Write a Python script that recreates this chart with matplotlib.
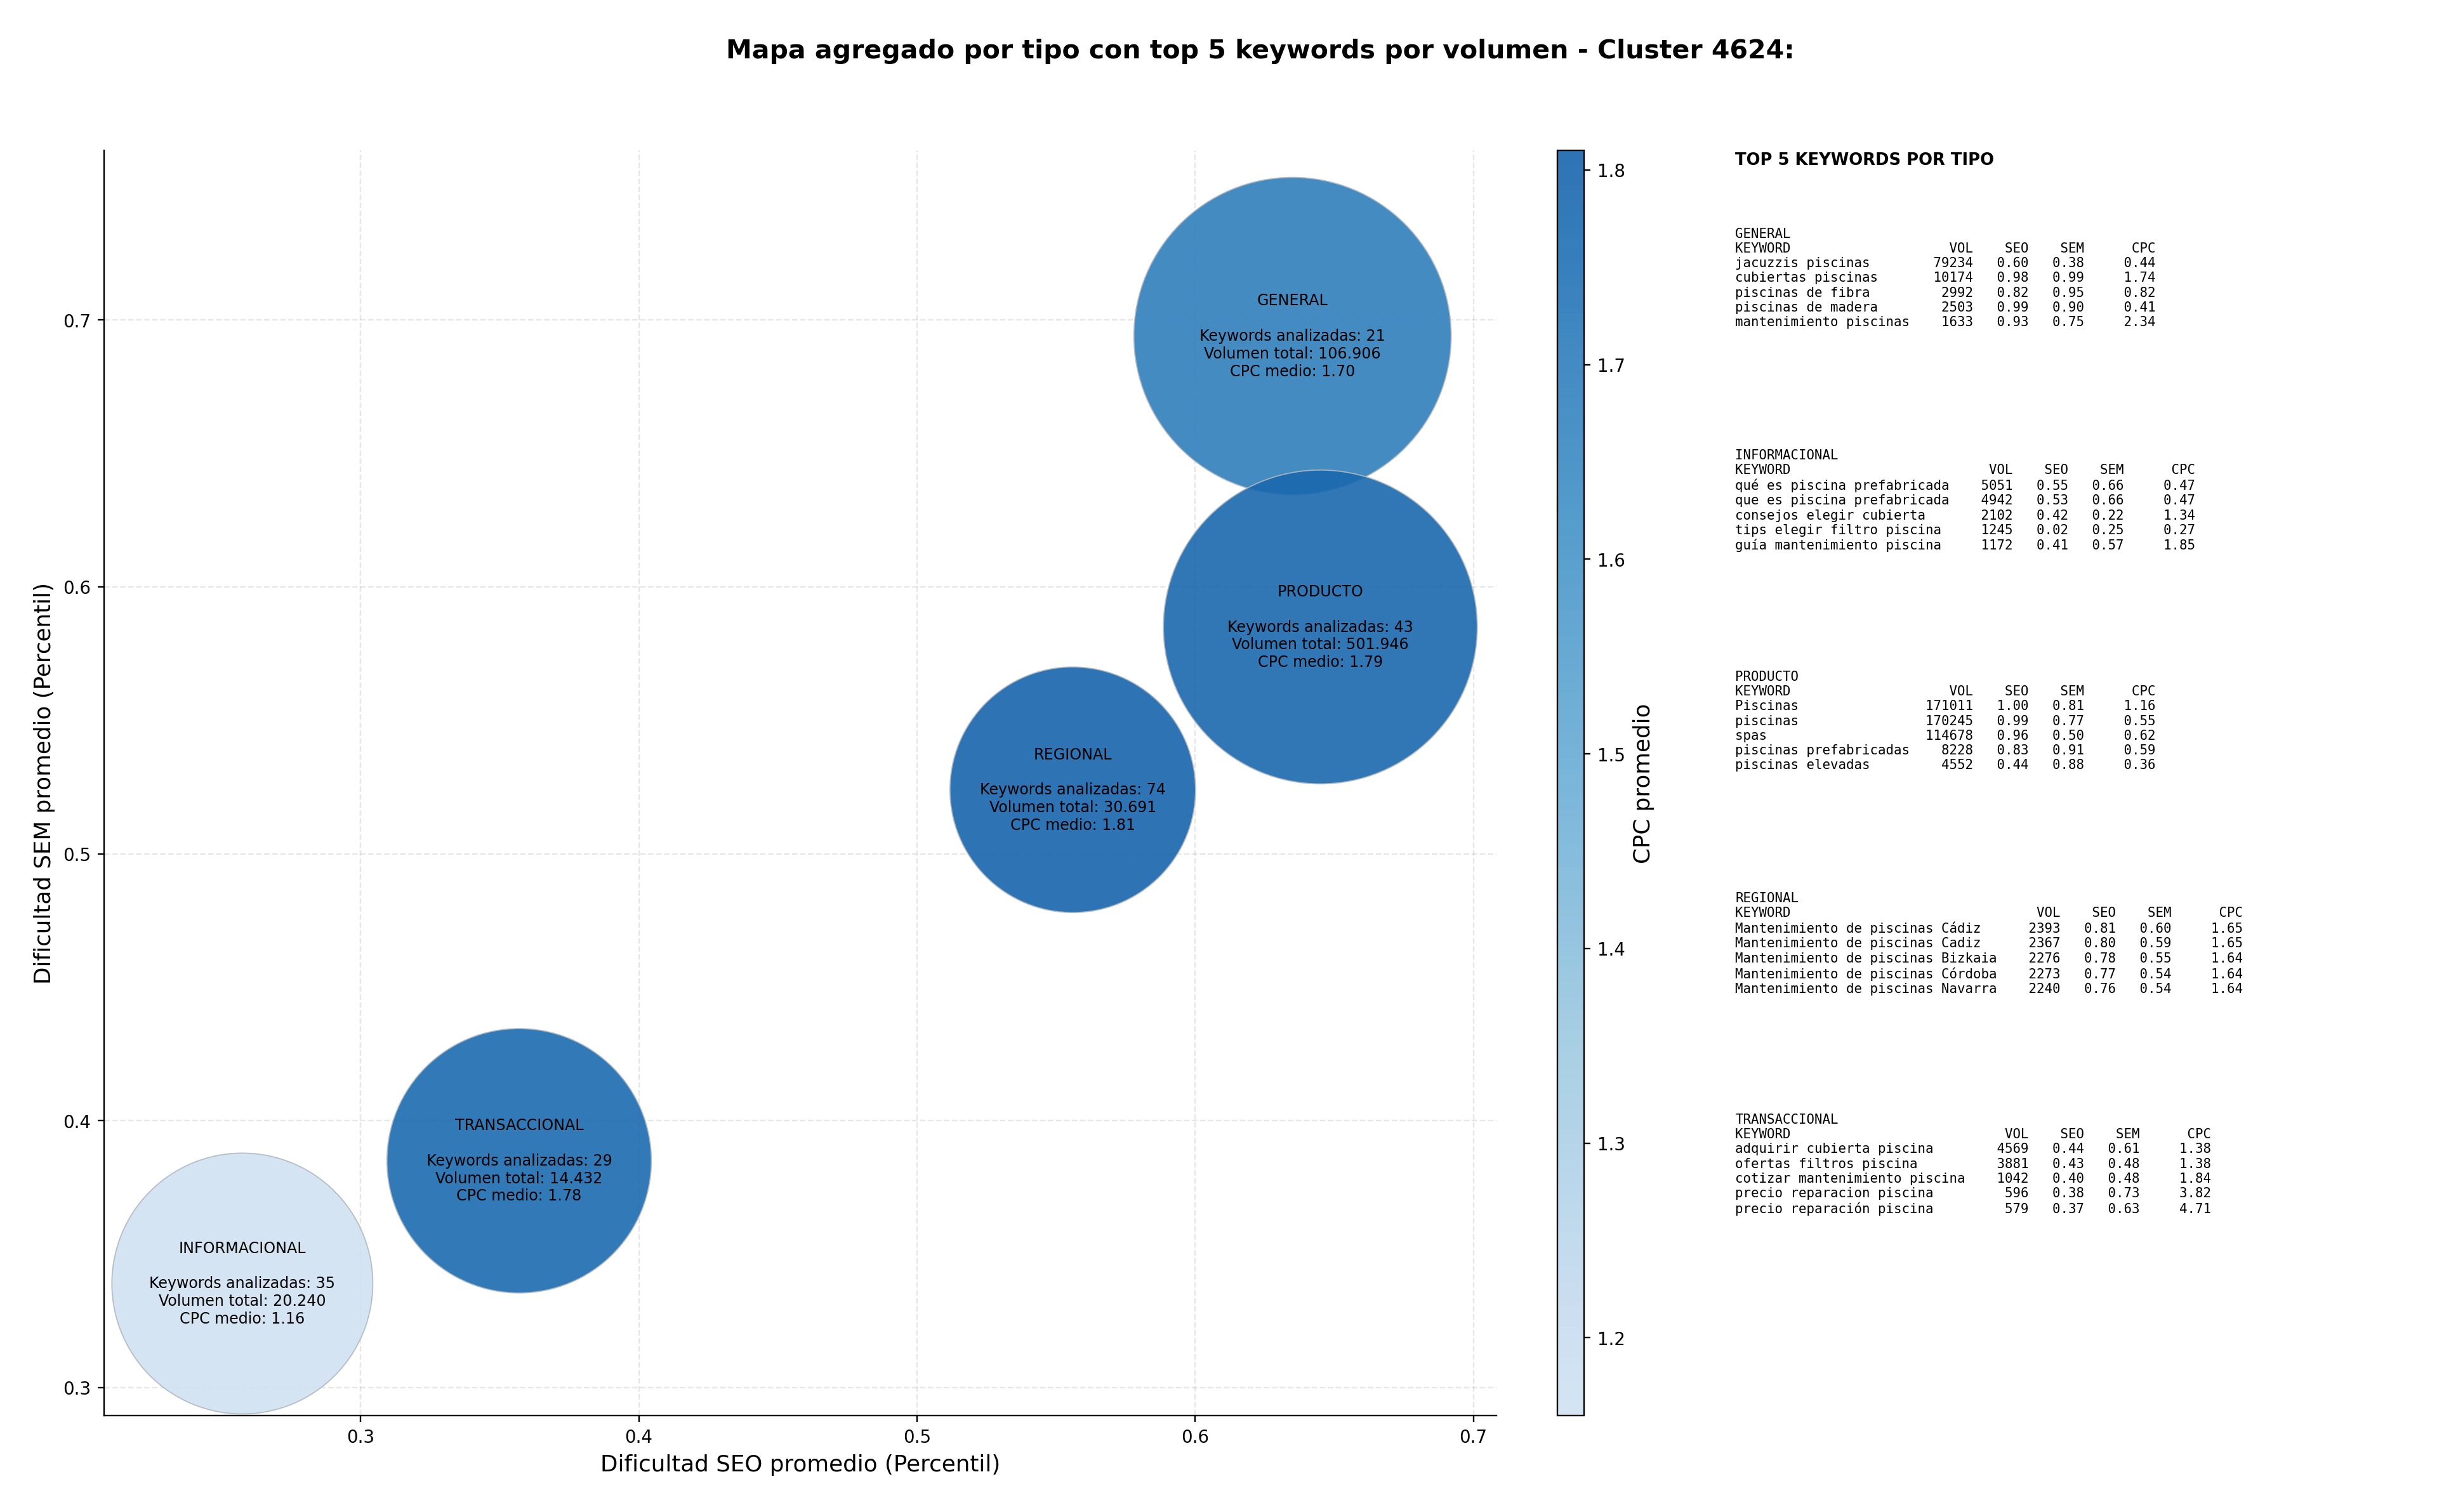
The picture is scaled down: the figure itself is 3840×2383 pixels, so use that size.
import numpy as np
import matplotlib
matplotlib.use("Agg")
import matplotlib.pyplot as plt
from matplotlib.colors import LinearSegmentedColormap, Normalize

# aggregated data per type
tipos = ['GENERAL', 'INFORMACIONAL', 'PRODUCTO', 'REGIONAL', 'TRANSACCIONAL']
seo_medio = [0.635, 0.2575, 0.645, 0.556, 0.357]
sem_medio = [0.694, 0.339, 0.585, 0.524, 0.385]
n_keywords = [21, 35, 43, 74, 29]
volumen_total = [106906, 20240, 501946, 30691, 14432]
cpc_medio = [1.70, 1.16, 1.79, 1.81, 1.78]
bubble_size = [28300, 19130, 27690, 16950, 19650]

# top 5 keywords per type
top_keywords = {
    'GENERAL': ['jacuzzis piscinas', 'cubiertas piscinas', 'piscinas de fibra',
                'piscinas de madera', 'mantenimiento piscinas'],
    'INFORMACIONAL': ['qué es piscina prefabricada', 'que es piscina prefabricada',
                      'consejos elegir cubierta', 'tips elegir filtro piscina',
                      'guía mantenimiento piscina'],
    'PRODUCTO': ['Piscinas', 'piscinas', 'spas', 'piscinas prefabricadas',
                 'piscinas elevadas'],
    'REGIONAL': ['Mantenimiento de piscinas Cádiz', 'Mantenimiento de piscinas Cadiz',
                 'Mantenimiento de piscinas Bizkaia', 'Mantenimiento de piscinas Córdoba',
                 'Mantenimiento de piscinas Navarra'],
    'TRANSACCIONAL': ['adquirir cubierta piscina', 'ofertas filtros piscina',
                      'cotizar mantenimiento piscina', 'precio reparacion piscina',
                      'precio reparación piscina'],
}
top_vol = {
    'GENERAL': [79234, 10174, 2992, 2503, 1633],
    'INFORMACIONAL': [5051, 4942, 2102, 1245, 1172],
    'PRODUCTO': [171011, 170245, 114678, 8228, 4552],
    'REGIONAL': [2393, 2367, 2276, 2273, 2240],
    'TRANSACCIONAL': [4569, 3881, 1042, 596, 579],
}
top_seo = {
    'GENERAL': [0.60, 0.98, 0.82, 0.99, 0.93],
    'INFORMACIONAL': [0.55, 0.53, 0.42, 0.02, 0.41],
    'PRODUCTO': [1.00, 0.99, 0.96, 0.83, 0.44],
    'REGIONAL': [0.81, 0.80, 0.78, 0.77, 0.76],
    'TRANSACCIONAL': [0.44, 0.43, 0.40, 0.38, 0.37],
}
top_sem = {
    'GENERAL': [0.38, 0.99, 0.95, 0.90, 0.75],
    'INFORMACIONAL': [0.66, 0.66, 0.22, 0.25, 0.57],
    'PRODUCTO': [0.81, 0.77, 0.50, 0.91, 0.88],
    'REGIONAL': [0.60, 0.59, 0.55, 0.54, 0.54],
    'TRANSACCIONAL': [0.61, 0.48, 0.48, 0.73, 0.63],
}
top_cpc = {
    'GENERAL': [0.44, 1.74, 0.82, 0.41, 2.34],
    'INFORMACIONAL': [0.47, 0.47, 1.34, 0.27, 1.85],
    'PRODUCTO': [1.16, 0.55, 0.62, 0.59, 0.36],
    'REGIONAL': [1.65, 1.65, 1.64, 1.64, 1.64],
    'TRANSACCIONAL': [1.38, 1.38, 1.84, 3.82, 4.71],
}

DPI = 214
fig = plt.figure(figsize=(3840.4 / DPI, 2383.4 / DPI), dpi=DPI)
ax = fig.add_axes([0.0427, 0.0637, 0.5714, 0.8366])
cax = fig.add_axes([0.639, 0.0637, 0.011, 0.8366])

cmap = LinearSegmentedColormap.from_list('blues_trunc', plt.cm.Blues(np.linspace(0.2, 0.8, 256)))
norm = Normalize(vmin=min(cpc_medio), vmax=max(cpc_medio))

sc = ax.scatter(seo_medio, sem_medio, s=bubble_size, c=cpc_medio, cmap=cmap, norm=norm,
                alpha=0.9, edgecolors='#b0b8c0', linewidths=0.6, zorder=2)

for i, t in enumerate(tipos):
    vol_txt = f"{volumen_total[i]:,}".replace(',', '.')
    label = f"{t}\n\nKeywords analizadas: {n_keywords[i]}\nVolumen total: {vol_txt}\nCPC medio: {cpc_medio[i]:.2f}"
    ax.text(seo_medio[i], sem_medio[i], label, ha='center', va='center', fontsize=8, zorder=3)

ax.set_xlim(0.2078, 0.7084)
ax.set_ylim(0.2895, 0.7635)
ax.set_xticks([0.3, 0.4, 0.5, 0.6, 0.7])
ax.set_yticks([0.3, 0.4, 0.5, 0.6, 0.7])
ax.grid(True, linestyle='--', alpha=0.3, zorder=0)
ax.set_axisbelow(True)
ax.spines['top'].set_visible(False)
ax.spines['right'].set_visible(False)
ax.tick_params(labelsize=9.3)
ax.set_xlabel('Dificultad SEO promedio (Percentil)', fontsize=12)
ax.set_ylabel('Dificultad SEM promedio (Percentil)', fontsize=12)

cb = fig.colorbar(sc, cax=cax)
cb.set_label('CPC promedio', fontsize=12)
cb.ax.tick_params(labelsize=9.3)

fig.text(0.517, 0.966, 'Mapa agregado por tipo con top 5 keywords por volumen - Cluster 4624:',
         ha='center', va='center', fontsize=13.8, fontweight='bold')

# text panel with top keywords
fig.text(0.712, 0.894, 'TOP 5 KEYWORDS POR TIPO', ha='left', va='center', fontsize=8.7, fontweight='bold')
for i, t in enumerate(tipos):
    kws = top_keywords[t]
    w = max(len(k) for k in kws) + 2
    lines = [t, f"{'KEYWORD':<{w}}{'VOL':>6}{'SEO':>7}{'SEM':>7}{'CPC':>9}"]
    for k, v, so, se, cp in zip(kws, top_vol[t], top_seo[t], top_sem[t], top_cpc[t]):
        lines.append(f"{k:<{w}}{v:>6}{so:>7.2f}{se:>7.2f}{cp:>9.2f}")
    y = 1 - (146.5 + 142.5 * i) / 973
    fig.text(0.712, y, "\n".join(lines), ha='left', va='top', fontsize=7, family='DejaVu Sans Mono')

fig.savefig('out.png', dpi=DPI)
